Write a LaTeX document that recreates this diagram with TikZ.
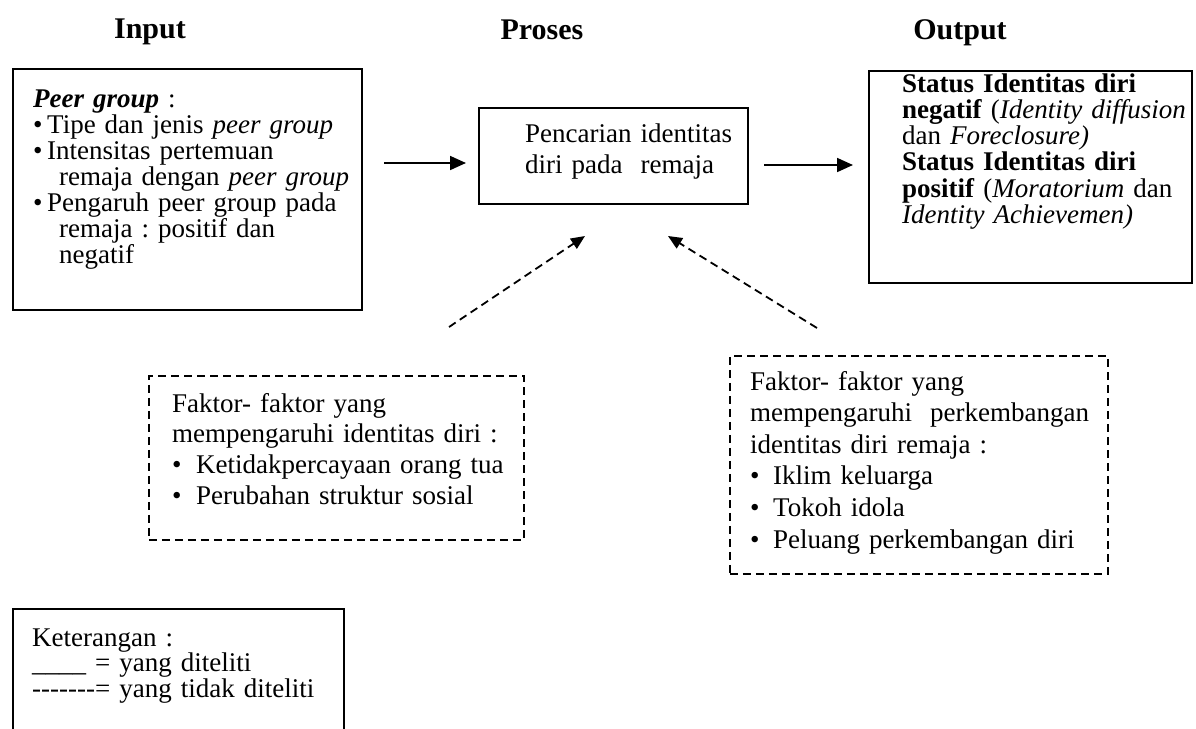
\documentclass[tikz,border=0pt]{standalone}
\usepackage{fontspec}
\setmainfont{Liberation Serif}
\usetikzlibrary{arrows.meta}
\newcommand{\bl}[1][24pt]{\makebox[#1][l]{\textbullet}}
\newcommand{\ind}[1][24pt]{\hspace*{#1}}
\newcommand{\hy}{-\kern0pt}
\frenchspacing
\begin{document}
\begin{tikzpicture}[x=1pt,y=-1pt,
  sbox/.style={draw=black, line width=2pt, inner sep=0pt, anchor=north west},
  dbox/.style={draw=black, line width=1.8pt, dash pattern=on 8pt off 5pt, inner sep=0pt, anchor=north west},
  txt/.style={anchor=base west, inner sep=0pt, text width=#1, align=left},
  txt/.default=340pt,
  title/.style={font=\fontsize{30}{32}\selectfont\bfseries, inner sep=0pt, anchor=base},
  arr/.style={line width=1.8pt, -{Triangle[length=16pt,width=14pt]}},
  darr/.style={line width=1.8pt, dash pattern=on 8pt off 5pt, -{Triangle[length=14pt,width=12pt]}}
]
\useasboundingbox (0,0) rectangle (1196,728);
\fill[white] (0,0) rectangle (1196,728);

% titles
\node[title] (tin) at (150,38) {Input};
\node[title] (tpr) at (542,39) {Proses};
\node[title] (tout) at (960,39) {Output};

% boxes
\node[sbox, minimum width=349pt, minimum height=241pt] (inp) at (12,68) {};
\node[sbox, minimum width=269pt, minimum height=96pt] (pro) at (478,107) {};
\node[sbox, minimum width=323pt, minimum height=212pt] (out) at (868,70) {};
\node[dbox, minimum width=375pt, minimum height=164pt] (f1) at (148,375) {};
\node[dbox, minimum width=378pt, minimum height=218pt] (f2) at (729,355) {};
\node[sbox, minimum width=331pt, minimum height=140pt] (leg) at (12,608) {};

% texts
\node[txt, font=\fontsize{27}{26}\selectfont] (tinp) at ([shift={(21,39)}]inp.north west) {%
\textbf{\textit{Peer group}} :\\
\bl[14pt]Tipe dan jenis \textit{peer group}\\
\bl[14pt]Intensitas pertemuan\\
\ind[26pt]remaja dengan \textit{peer group}\\
\bl[14pt]Pengaruh peer group pada\\
\ind[26pt]remaja : positif dan\\
\ind[26pt]negatif};

\node[txt, font=\fontsize{27}{31}\selectfont] (tpro) at ([shift={(47,35)}]pro.north west) {%
Pencarian identitas\\
diri pada\ \ remaja};

\node[txt, font=\fontsize{27}{26.3}\selectfont] (tout2) at ([shift={(34,22)}]out.north west) {%
\textbf{Status Identitas diri}\\
\textbf{negatif} (\textit{Identity diffusion}\\
dan \textit{Foreclosure)}\\
\textbf{Status Identitas diri}\\
\textbf{positif} (\textit{Moratorium} dan\\
\textit{Identity Achievemen)}};

\node[txt, font=\fontsize{27}{30.8}\selectfont] (tf1) at ([shift={(24,37)}]f1.north west) {%
Faktor- faktor yang\\
mempengaruhi identitas diri :\\
\bl[24pt]Ketidakpercayaan orang tua\\
\bl[24pt]Perubahan struktur sosial};

\node[txt, font=\fontsize{27}{31.6}\selectfont] (tf2) at ([shift={(21,35)}]f2.north west) {%
Faktor- faktor yang\\
mempengaruhi\ \ perkembangan\\
identitas diri remaja :\\
\bl[23pt]Iklim keluarga\\
\bl[23pt]Tokoh idola\\
\bl[23pt]Peluang perkembangan diri};

\node[txt, font=\fontsize{27}{25.5}\selectfont] (tleg) at ([shift={(20,38)}]leg.north west) {%
Keterangan :\\
\_\_\_\_ = yang diteliti\\
\hy\hy\hy\hy\hy\hy\hy= yang tidak diteliti};

% connectors
\draw[arr] ([shift={(21,95)}]inp.north east) -- ([shift={(-12,56)}]pro.north west);
\draw[arr] ([shift={(15,58)}]pro.north east) -- ([shift={(-15,95)}]out.north west);
\draw[darr] ([shift={(301,-48)}]f1.north west) -- ([shift={(107,31)}]pro.south west);
\draw[darr] ([shift={(88,-27)}]f2.north west) -- ([shift={(190,31)}]pro.south west);
\end{tikzpicture}
\end{document}
